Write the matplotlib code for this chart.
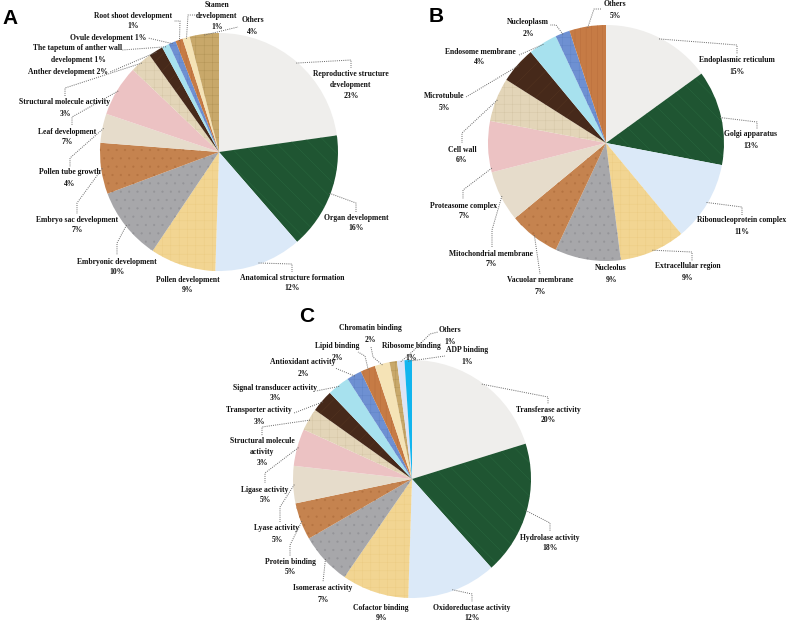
import matplotlib
matplotlib.use('Agg')
import matplotlib.pyplot as plt
import numpy as np

# ---- data ----
a_names = ['Reproductive structure\ndevelopment', 'Organ development', 'Anatomical structure formation',
           'Pollen development', 'Embryonic development', 'Embryo sac development', 'Pollen tube growth',
           'Leaf development', 'Structural molecule activity', 'Anther development',
           'The tapetum of anther wall\ndevelopment', 'Ovule development', 'Root shoot development',
           'Stamen\ndevelopment', 'Others']
a_values = [23, 16, 12, 9, 10, 7, 4, 7, 3, 2, 1, 1, 1, 1, 4]
a_inline = {9, 10, 11}

b_names = ['Endoplasmic reticulum', 'Golgi apparatus', 'Ribonucleoprotein complex', 'Extracellular region',
           'Nucleolus', 'Vacuolar membrane', 'Mitochondrial membrane', 'Proteasome complex', 'Cell wall',
           'Microtubule', 'Endosome membrane', 'Nucleoplasm', 'Others']
b_values = [15, 13, 11, 9, 9, 7, 7, 7, 6, 5, 4, 2, 5]

c_names = ['Transferase activity', 'Hydrolase activity', 'Oxidoreductase activity', 'Cofactor binding',
           'Isomerase activity', 'Protein binding', 'Lyase activity', 'Ligase activity',
           'Structural molecule\nactivity', 'Transporter activity', 'Signal transducer activity',
           'Antioxidant activity', 'Lipid binding', 'Chromatin binding', 'Ribosome binding', 'Others',
           'ADP binding']
c_values = [20, 18, 12, 9, 7, 5, 5, 5, 3, 3, 3, 2, 2, 2, 1, 1, 1]

# ---- styling: (face, hatch, hatch colour) per slice position ----
textures = [('#efeeec', None, None), ('#1f5532', '\\\\', '#2a6a41'), ('#dbe9f8', None, None),
            ('#f2d592', '++', '#ebcb82'), ('#a7a7aa', '..', '#949498'), ('#c5834f', '..', '#b47341'),
            ('#e6dccb', None, None), ('#ecc2c3', None, None), ('#e3d5b8', '++', '#d3c4a3'),
            ('#46291a', '//', '#573621'), ('#a7e1ee', None, None), ('#6e90d2', '++', '#5f82c4'),
            ('#c67b45', '|||', '#b76c3b'), ('#f5e3b6', None, None), ('#c8a86a', '++', '#b09254'),
            ('#dde4f6', None, None), ('#12b5ee', None, None)]

# ---- layout (pixel coords, y down) ----
a_text = [(351, 85), (356, 223), (292, 283), (188, 285), (117, 267), (77, 225), (70, 178), (67, 137),
          (65, 108), (68, 72), (78, 54), (108, 38), (133, 21), (217, 16), (253, 26)]
a_lead = [[(351, 60), (351, 68)], [(356, 203), (356, 212)], [(292, 264), (292, 272)], [],
          [(117, 243), (117, 255)], [(77, 203), (77, 214)], [(70, 158), (70, 167)], [(72, 117), (72, 126)],
          [(65, 88), (65, 97)], [(110, 72)], [(122, 50)], [(148, 38)], [(180, 21), (174, 21)],
          [(188, 15), (197, 15)], [(238, 27)]]

b_text = [(737, 66), (751, 140), (742, 226), (688, 272), (611, 274), (540, 286), (491, 259), (464, 211),
          (462, 155), (444, 102), (480, 57), (528, 28), (615, 10)]
b_lead = [[(737, 45), (737, 54)], [(757, 122), (757, 129)], [(742, 207), (742, 215)],
          [(692, 252), (692, 261)], [], [(540, 274)], [(492, 230), (492, 248)], [(463, 190), (463, 199)],
          [(462, 133), (462, 143)], [(466, 97)], [(519, 55)], [(556, 25), (550, 25)], [(594, 9), (601, 9)]]
b_frac = {7: 0.08}

c_text = [(548, 415), (550, 543), (472, 613), (381, 613), (323, 594), (290, 567), (277, 534), (265, 495),
          (262, 452), (259, 416), (275, 393), (303, 368), (337, 352), (370, 334), (411, 352), (450, 336),
          (467, 356)]
c_lead = [[(548, 397), (548, 404)], [(550, 523), (550, 531)], [(472, 594), (472, 602)], [],
          [(323, 582)], [(290, 545), (290, 556)], [(280, 507), (280, 522)], [(265, 473), (265, 483)],
          [(262, 427), (262, 436)], [(294, 413)], [(316, 391)], [(335, 368)], [(365, 356), (358, 352)],
          [(373, 357), (371, 347)], [], [(412, 352), (430, 334), (438, 332)], [(445, 356)]]

W, H = 787, 623
fig = plt.figure(figsize=(W / 100, H / 100), dpi=100)
ax = fig.add_axes([0, 0, 1, 1])
plt.rcParams['hatch.linewidth'] = 0.3

lab_kw = dict(fontsize=5.5, fontweight='bold', family='Liberation Serif', color='#111111',
              ha='center', va='center', linespacing=1.5)


def draw_panel(center, radius, names, values, texts, leads, inline=(), frac=None):
    frac = frac or {}
    cols = [textures[i][0] for i in range(len(values))]
    wedges, _ = ax.pie(values, center=center, radius=radius, startangle=-90, counterclock=True,
                       colors=cols, wedgeprops=dict(linewidth=0))
    for i, w in enumerate(wedges):
        face, hatch, hc = textures[i]
        if hatch:
            w.set_hatch(hatch)
            w.set_edgecolor(hc)
            w.set_linewidth(0)
        # label text
        sep = ' ' if i in inline else '\n'
        ax.text(texts[i][0], texts[i][1], f'{names[i]}{sep}{values[i]}%', **lab_kw)
        # leader line from wedge edge
        if leads[i]:
            f = frac.get(i, 0.5)
            th = np.deg2rad(w.theta1 + f * (w.theta2 - w.theta1))
            p0 = (center[0] + radius * 0.99 * np.cos(th), center[1] + radius * 0.99 * np.sin(th))
            pts = [p0] + leads[i]
            ax.plot([p[0] for p in pts], [p[1] for p in pts], color='#666666', lw=0.7,
                    linestyle=(0, (1, 1.2)))


draw_panel((219, 152), 119, a_names, a_values, a_text, a_lead, inline=a_inline)
draw_panel((606, 143), 118, b_names, b_values, b_text, b_lead, frac=b_frac)
draw_panel((412, 479), 119, c_names, c_values, c_text, c_lead)

# panel letters
for letter, (x, y) in zip(['A', 'B', 'C'], [(10, 18), (436, 17), (307, 317)]):
    ax.text(x, y, letter, fontsize=15, fontweight='bold', family='Liberation Sans',
            ha='center', va='center', color='black')

ax.set_xlim(0, W)
ax.set_ylim(H, 0)
ax.set_aspect('equal')
ax.axis('off')

fig.savefig('out.png', dpi=100, facecolor='white')
